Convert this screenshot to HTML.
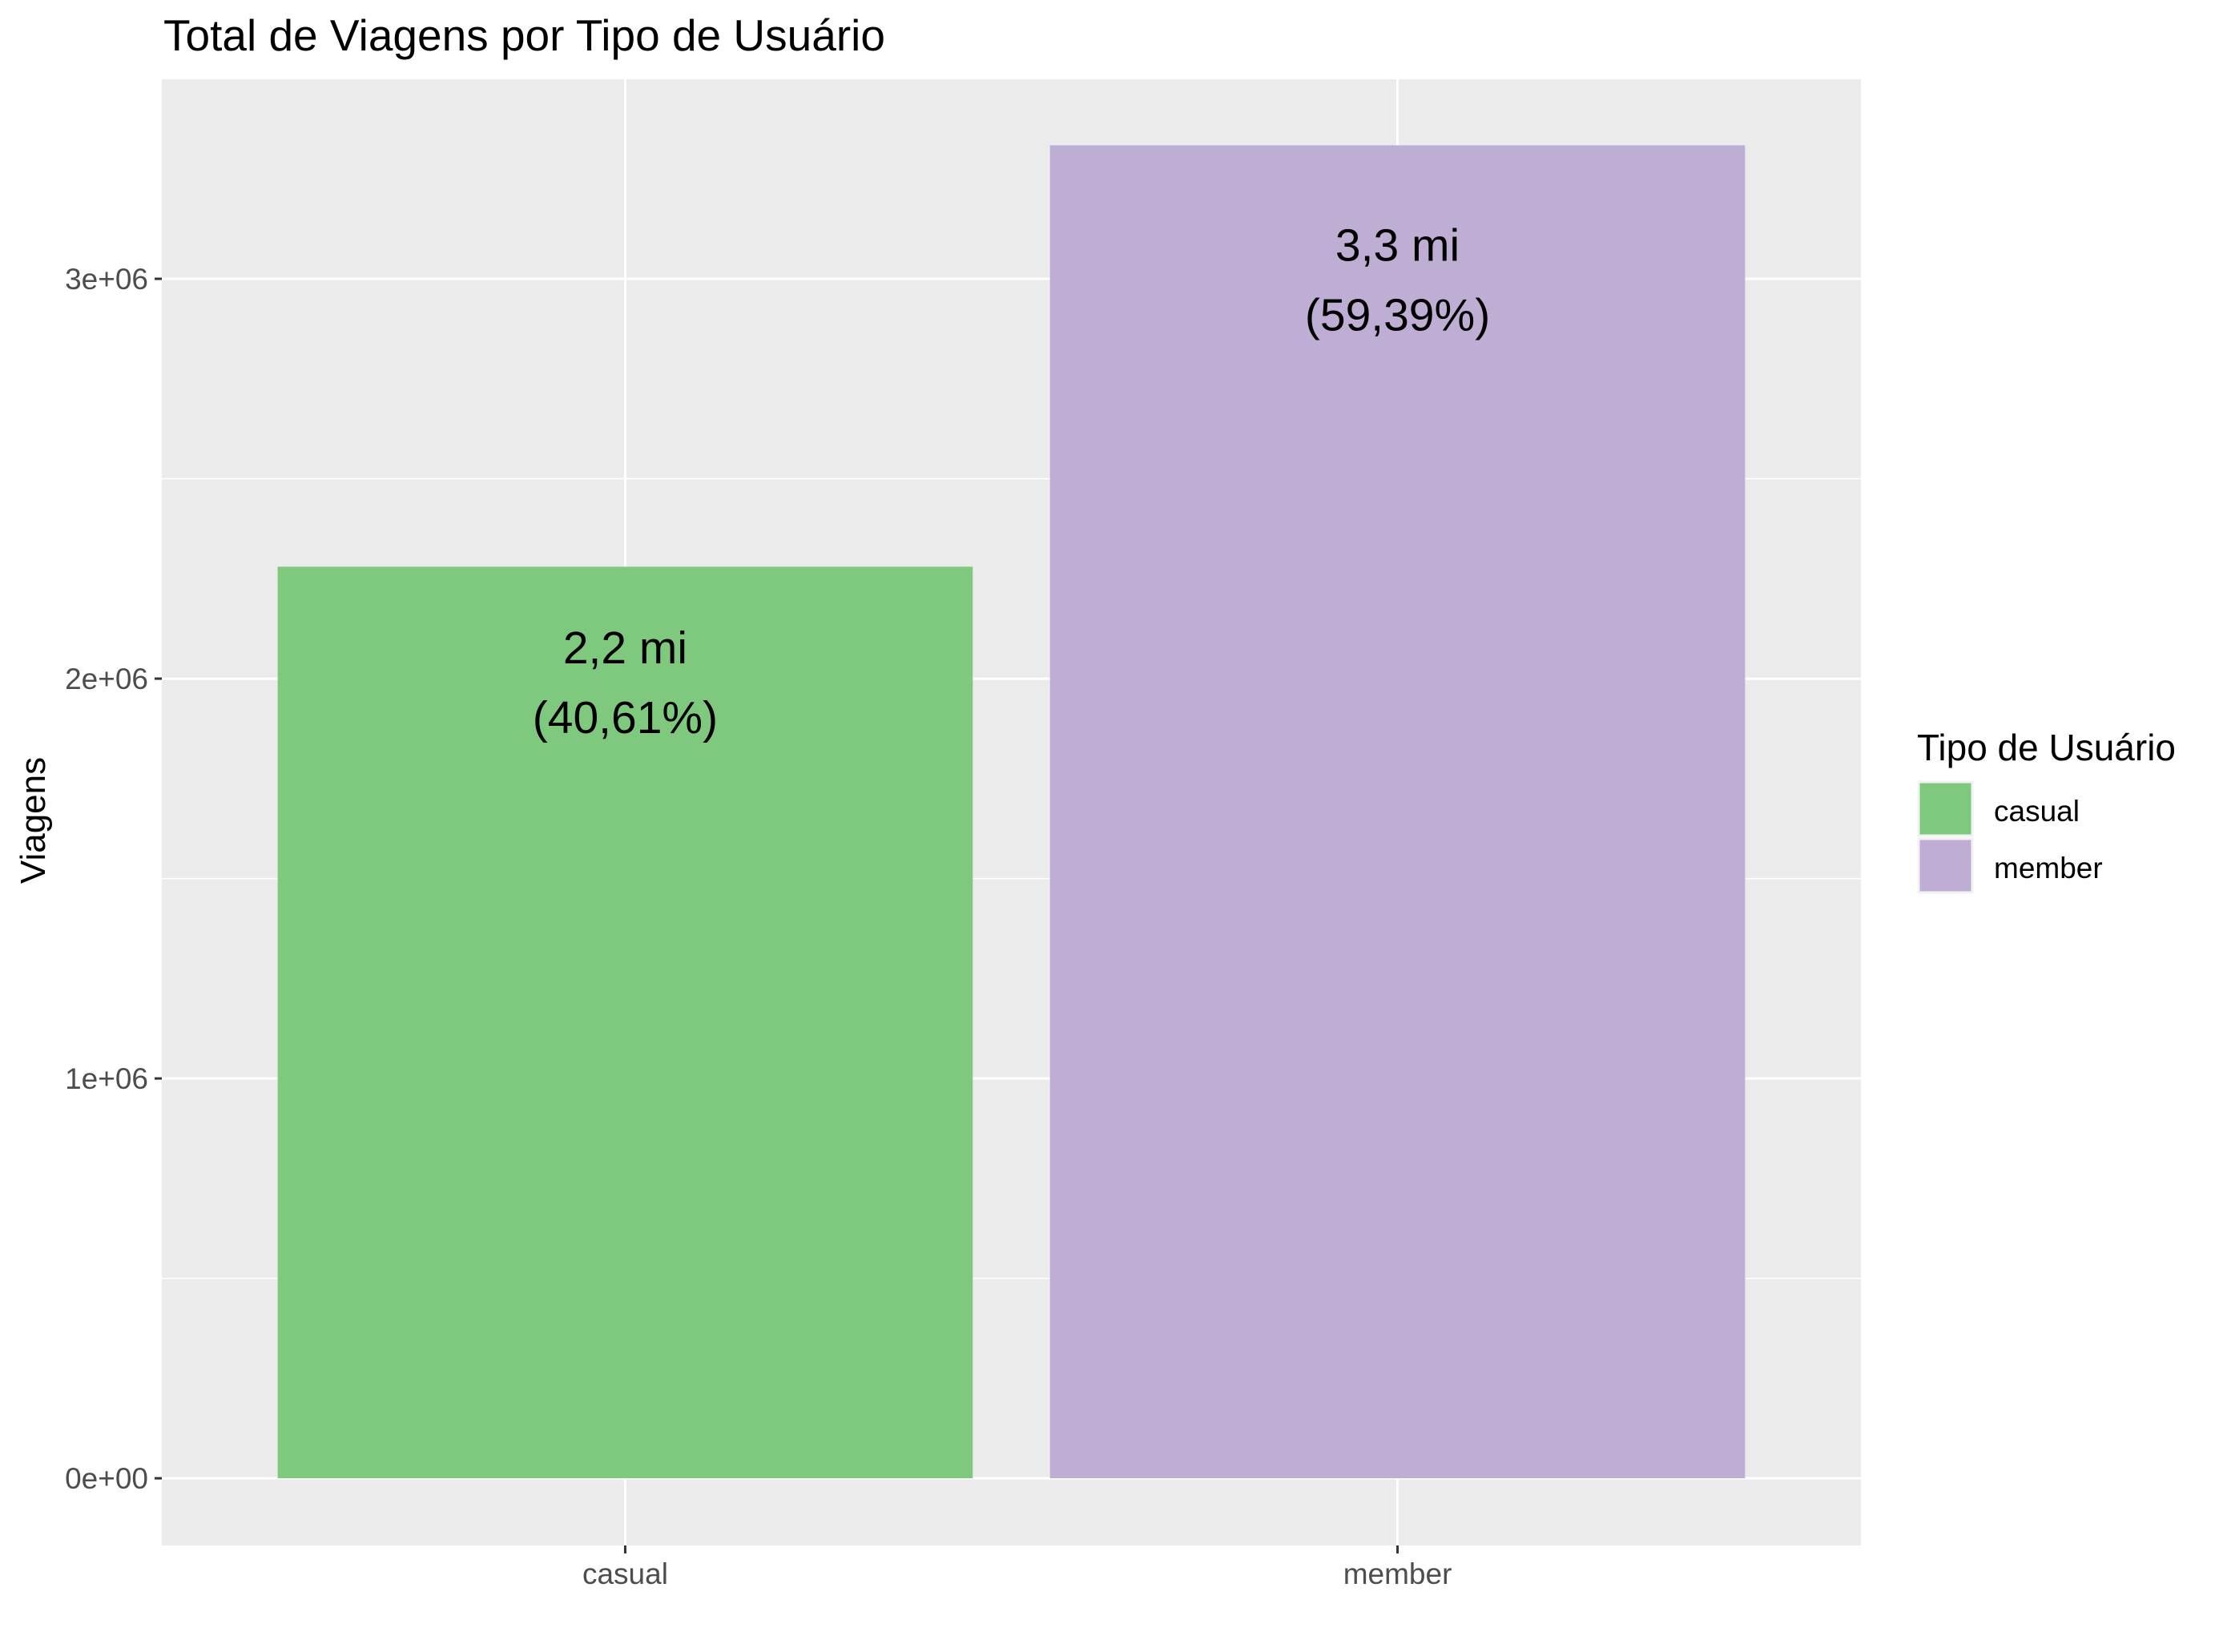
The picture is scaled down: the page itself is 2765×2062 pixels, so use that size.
<!DOCTYPE html>
<html><head><meta charset="utf-8"><style>
html,body{margin:0;padding:0;background:#fff;}
svg{display:block;font-family:"Liberation Sans",Arial,sans-serif;}
</style></head><body>
<svg id="chart" width="2765" height="2062" viewBox="0 0 2765 2062" xmlns="http://www.w3.org/2000/svg">
<rect x="0" y="0" width="2765" height="2062" fill="#fff"/>
<text x="204" y="63" font-size="55" fill="#000">Total de Viagens por Tipo de Usuário</text>
<g id="plot"></g>
<text transform="translate(56,1024) rotate(-90)" text-anchor="middle" font-size="44" fill="#000">Viagens</text>
<g>
<text x="2393" y="949" font-size="46" fill="#000">Tipo de Usuário</text>
<g id="legend-items"></g>
</g>
</svg>
<script>
const categories = ["casual", "member"];
const values = [2280000, 3334000];
const labelTop = ["2,2 mi", "3,3 mi"];
const labelBottom = ["(40,61%)", "(59,39%)"];
const colors = ["#7fc97f", "#beaed4"];
const yTicks = [0, 1000000, 2000000, 3000000];
const yTickLabels = ["0e+00", "1e+06", "2e+06", "3e+06"];

const NS = "http://www.w3.org/2000/svg";
const P = {l:202, r:2323, t:99, b:1929};
const yMin = -168000, yMax = 3499000;
const xMin = 0.4, xMax = 2.6;
function yS(v){return P.b - (v - yMin)/(yMax - yMin)*(P.b - P.t);}
function xS(i){return P.l + ((i+1) - xMin)/(xMax - xMin)*(P.r - P.l);}
function mk(tag, attrs, parent){const e=document.createElementNS(NS,tag);for(const k in attrs)e.setAttribute(k,attrs[k]);parent.appendChild(e);return e;}
const g = document.getElementById('plot');
const panel = mk('rect',{x:P.l,y:P.t,width:P.r-P.l,height:P.b-P.t,fill:'#ebebeb'},g);


for(let k=0;k<yTicks.length;k++){
  const v = yTicks[k]+500000;
  if(v>yMax) continue;
  const ln = mk('line',{x1:P.l,x2:P.r,y1:yS(v),y2:yS(v),stroke:'#fff','stroke-width':1.5},g);
  
  
}
yTicks.forEach((v,k)=>{
  const y=yS(v);
  const ln = mk('line',{x1:P.l,x2:P.r,y1:y,y2:y,stroke:'#fff','stroke-width':3},g);
  
  
  const tk = mk('line',{x1:P.l-9,x2:P.l,y1:y,y2:y,stroke:'#333','stroke-width':3},g);
  
  
  const t = mk('text',{x:P.l-17,y:y+13,'text-anchor':'end','font-size':37,fill:'#4d4d4d'},g);
  t.textContent = yTickLabels[k];
  
  
});
categories.forEach((c,i)=>{
  const x=xS(i);
  const ln = mk('line',{x1:x,x2:x,y1:P.t,y2:P.b,stroke:'#fff','stroke-width':3},g);
  
  
});
categories.forEach((c,i)=>{
  const x=xS(i), w=(P.r-P.l)/(xMax-xMin)*0.9;
  const bar = mk('rect',{x:x-w/2,y:yS(values[i]),width:w,height:yS(0)-yS(values[i]),fill:colors[i]},g);
  
  
  const ly = yS(values[i]) + 48.7 + values[i]/1e6*22.3;
  const t1 = mk('text',{x:x,y:ly+21,'text-anchor':'middle','font-size':57,fill:'#000'},g);
  t1.textContent = labelTop[i];
  
  
  const t2 = mk('text',{x:x,y:ly+108,'text-anchor':'middle','font-size':57,fill:'#000'},g);
  t2.textContent = labelBottom[i];
  
  
  const tk = mk('line',{x1:x,x2:x,y1:P.b,y2:P.b+10,stroke:'#333','stroke-width':3},g);
  
  
  const xl = mk('text',{x:x,y:1977,'text-anchor':'middle','font-size':37,fill:'#4d4d4d'},g);
  xl.textContent = c;
  
  
});
const lg = document.getElementById('legend-items');
categories.forEach((c,i)=>{
  const y0 = 976 + i*71;
  const key = mk('rect',{x:2395,y:y0,width:67,height:67,fill:colors[i],stroke:'#f2f2f2','stroke-width':3},lg);
  
  
  const t = mk('text',{x:2489,y:y0+49,'font-size':37,fill:'#000'},lg);
  t.textContent = c;
  
  
});
</script>
</body></html>
